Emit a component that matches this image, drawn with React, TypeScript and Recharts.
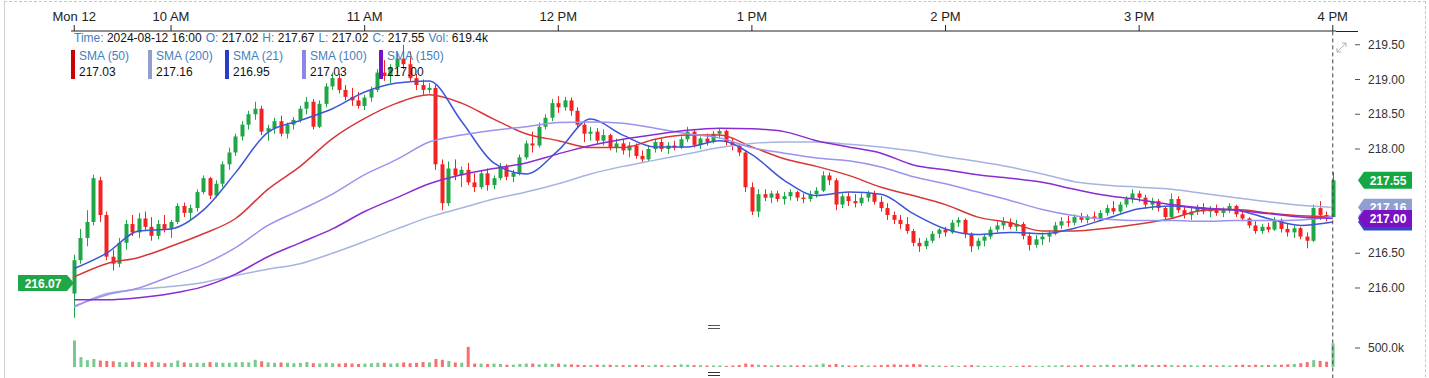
import React from 'react';
import { ComposedChart, Bar, Line, XAxis, YAxis, ReferenceLine, Cell } from 'recharts';

// 2-minute candles, 09:30 -> 16:00 (index 195 is the 16:00 candle)
const opens = [
  215.92, 216.40, 216.72, 216.95, 217.55, 217.05, 216.45, 216.35, 216.65, 216.92,
  216.80, 217.00, 216.88, 216.75, 216.92, 216.85, 216.95, 217.18, 217.08, 217.15,
  217.38, 217.58, 217.33, 217.50, 217.78, 217.95, 218.18, 218.35, 218.50, 218.58,
  218.25, 218.30, 218.40, 218.22, 218.35, 218.42, 218.58, 218.68, 218.32, 218.65,
  218.90, 219.02, 218.85, 218.75, 218.70, 218.62, 218.74, 218.85, 219.10, 219.05,
  219.18, 219.30, 219.22, 219.02, 218.92, 218.85, 218.88, 217.78, 217.22, 217.72,
  217.62, 217.70, 217.52, 217.45, 217.65, 217.48, 217.58, 217.75, 217.60, 217.66,
  217.88, 218.08, 218.05, 218.32, 218.45, 218.66, 218.60, 218.70, 218.55, 218.35,
  218.22, 218.25, 218.12, 218.20, 218.02, 218.08, 217.98, 218.05, 217.90, 217.85,
  218.00, 218.10, 218.00, 218.05, 218.02, 218.14, 218.25, 218.06, 218.15, 218.10,
  218.22, 218.26, 218.10, 218.05, 217.95, 217.45, 217.10, 217.35, 217.30, 217.36,
  217.28, 217.32, 217.38, 217.30, 217.28, 217.35, 217.40, 217.62, 217.55, 217.20,
  217.32, 217.25, 217.22, 217.30, 217.36, 217.24, 217.15, 217.05, 216.98, 216.92,
  216.82, 216.65, 216.60, 216.68, 216.78, 216.84, 216.80, 216.94, 216.98, 216.78,
  216.60, 216.68, 216.74, 216.84, 216.90, 216.95, 216.88, 216.92, 216.75, 216.62,
  216.70, 216.74, 216.78, 216.90, 216.96, 216.94, 217.02, 216.98, 217.03, 217.00,
  217.08, 217.15, 217.10, 217.20, 217.28, 217.36, 217.30, 217.20, 217.25, 217.15,
  217.02, 217.28, 217.12, 217.05, 217.10, 217.16, 217.10, 217.14, 217.08, 217.12,
  217.18, 217.06, 217.00, 216.90, 216.82, 216.88, 216.84, 216.98, 216.85, 216.80,
  216.86, 216.74, 216.68, 217.15, 217.05, 217.02,
];
const highs = [
  216.48, 216.85, 217.12, 217.63, 217.60, 217.10, 216.55, 216.72, 216.98, 217.05,
  217.08, 217.10, 217.02, 216.98, 217.05, 216.98, 217.22, 217.23, 217.20, 217.42,
  217.62, 217.60, 217.55, 217.82, 218.02, 218.22, 218.40, 218.55, 218.68, 218.62,
  218.35, 218.45, 218.48, 218.38, 218.46, 218.62, 218.75, 218.72, 218.70, 218.95,
  219.10, 219.08, 218.92, 218.88, 218.82, 218.78, 218.90, 219.15, 219.28, 219.22,
  219.38, 219.50, 219.40, 219.08, 219.00, 218.95, 218.92, 217.85, 217.82, 217.85,
  217.75, 217.80, 217.65, 217.70, 217.72, 217.62, 217.80, 217.78, 217.70, 217.92,
  218.12, 218.25, 218.38, 218.50, 218.72, 218.76, 218.75, 218.74, 218.60, 218.40,
  218.32, 218.30, 218.28, 218.22, 218.15, 218.14, 218.10, 218.08, 217.98, 218.05,
  218.14, 218.15, 218.10, 218.12, 218.18, 218.32, 218.28, 218.18, 218.22, 218.26,
  218.30, 218.28, 218.15, 218.08, 217.98, 217.52, 217.42, 217.42, 217.40, 217.40,
  217.38, 217.42, 217.40, 217.36, 217.40, 217.45, 217.68, 217.66, 217.58, 217.36,
  217.38, 217.35, 217.36, 217.40, 217.40, 217.32, 217.22, 217.10, 217.05, 217.02,
  216.85, 216.72, 216.72, 216.82, 216.86, 216.88, 216.98, 217.02, 217.00, 216.80,
  216.72, 216.78, 216.88, 216.96, 217.02, 217.00, 216.98, 216.95, 216.80, 216.76,
  216.80, 216.82, 216.95, 217.02, 217.04, 217.06, 217.08, 217.06, 217.10, 217.12,
  217.20, 217.25, 217.24, 217.32, 217.42, 217.40, 217.34, 217.30, 217.28, 217.18,
  217.36, 217.32, 217.18, 217.16, 217.20, 217.22, 217.18, 217.20, 217.16, 217.22,
  217.20, 217.12, 217.02, 216.96, 216.92, 216.94, 217.02, 217.00, 216.92, 216.90,
  216.88, 216.80, 217.20, 217.25, 217.10, 217.67,
];
const lows = [
  215.57, 216.35, 216.60, 216.90, 216.95, 216.40, 216.25, 216.30, 216.55, 216.75,
  216.72, 216.82, 216.68, 216.70, 216.80, 216.72, 216.92, 217.02, 216.98, 217.10,
  217.35, 217.28, 217.30, 217.45, 217.70, 217.90, 218.12, 218.28, 218.42, 218.20,
  218.12, 218.22, 218.18, 218.15, 218.28, 218.38, 218.50, 218.28, 218.30, 218.60,
  218.85, 218.80, 218.70, 218.62, 218.58, 218.56, 218.68, 218.82, 218.98, 218.95,
  219.10, 219.15, 218.98, 218.85, 218.78, 218.80, 217.70, 217.12, 217.18, 217.55,
  217.45, 217.48, 217.38, 217.42, 217.40, 217.42, 217.55, 217.55, 217.52, 217.62,
  217.85, 217.95, 218.02, 218.28, 218.40, 218.52, 218.55, 218.48, 218.30, 218.10,
  218.12, 218.08, 218.05, 217.98, 217.95, 217.92, 217.88, 217.86, 217.80, 217.82,
  217.95, 217.96, 217.93, 217.98, 218.00, 218.10, 218.02, 218.00, 218.05, 218.08,
  218.15, 218.05, 217.98, 217.90, 217.38, 217.05, 217.02, 217.25, 217.22, 217.24,
  217.20, 217.26, 217.25, 217.22, 217.24, 217.30, 217.38, 217.48, 217.12, 217.15,
  217.18, 217.16, 217.18, 217.24, 217.20, 217.10, 216.98, 216.92, 216.85, 216.78,
  216.60, 216.52, 216.56, 216.65, 216.72, 216.74, 216.78, 216.88, 216.72, 216.52,
  216.55, 216.60, 216.70, 216.80, 216.84, 216.85, 216.82, 216.70, 216.54, 216.58,
  216.62, 216.66, 216.76, 216.85, 216.88, 216.90, 216.94, 216.93, 216.96, 216.96,
  217.04, 217.06, 217.08, 217.16, 217.22, 217.24, 217.14, 217.12, 217.10, 216.96,
  217.00, 217.08, 217.00, 216.98, 217.05, 217.06, 217.02, 217.04, 217.02, 217.08,
  217.02, 216.96, 216.86, 216.78, 216.78, 216.80, 216.82, 216.80, 216.74, 216.72,
  216.70, 216.57, 216.66, 216.98, 216.96, 217.02,
];
const closes = [
  216.40, 216.72, 216.95, 217.58, 217.05, 216.45, 216.35, 216.65, 216.92, 216.80,
  217.00, 216.88, 216.75, 216.92, 216.85, 216.95, 217.18, 217.08, 217.15, 217.38,
  217.58, 217.33, 217.50, 217.78, 217.95, 218.18, 218.35, 218.50, 218.58, 218.25,
  218.30, 218.40, 218.22, 218.35, 218.42, 218.58, 218.68, 218.32, 218.65, 218.90,
  219.02, 218.85, 218.75, 218.70, 218.62, 218.74, 218.85, 219.10, 219.05, 219.18,
  219.30, 219.22, 219.02, 218.92, 218.85, 218.88, 217.78, 217.22, 217.72, 217.62,
  217.70, 217.52, 217.45, 217.65, 217.48, 217.58, 217.75, 217.60, 217.66, 217.88,
  218.08, 218.05, 218.32, 218.45, 218.66, 218.60, 218.70, 218.55, 218.35, 218.22,
  218.25, 218.12, 218.20, 218.02, 218.08, 217.98, 218.05, 217.90, 217.85, 218.00,
  218.10, 218.00, 218.05, 218.02, 218.14, 218.25, 218.06, 218.15, 218.10, 218.22,
  218.26, 218.10, 218.05, 217.95, 217.45, 217.10, 217.35, 217.30, 217.36, 217.28,
  217.32, 217.38, 217.30, 217.28, 217.35, 217.40, 217.62, 217.55, 217.20, 217.32,
  217.25, 217.22, 217.30, 217.36, 217.24, 217.15, 217.05, 216.98, 216.92, 216.82,
  216.65, 216.60, 216.68, 216.78, 216.84, 216.80, 216.94, 216.98, 216.78, 216.60,
  216.68, 216.74, 216.84, 216.90, 216.95, 216.88, 216.92, 216.75, 216.62, 216.70,
  216.74, 216.78, 216.90, 216.96, 216.94, 217.02, 216.98, 217.03, 217.00, 217.08,
  217.15, 217.10, 217.20, 217.28, 217.36, 217.30, 217.20, 217.25, 217.15, 217.02,
  217.28, 217.12, 217.05, 217.10, 217.16, 217.10, 217.14, 217.08, 217.12, 217.18,
  217.06, 217.00, 216.90, 216.82, 216.88, 216.84, 216.98, 216.85, 216.80, 216.86,
  216.74, 216.68, 217.15, 217.05, 217.02, 217.55,
];
// volume in thousands
const volumes = [
  700, 260, 180, 210, 170, 160, 150, 130, 120, 140, 130, 110, 140, 120, 100, 110, 170, 120, 100, 110,
  110, 130, 120, 110, 110, 120, 130, 120, 190, 150, 120, 110, 120, 110, 100, 110, 130, 100, 90, 110,
  100, 90, 100, 90, 80, 90, 100, 110, 110, 90, 100, 120, 100, 110, 130, 120, 210, 190, 160, 120,
  110, 530, 90, 90, 80, 90, 80, 60, 60, 80, 90, 90, 70, 90, 80, 90, 70, 70, 60, 50,
  50, 60, 60, 60, 50, 50, 50, 60, 50, 40, 60, 50, 40, 50, 70, 60, 50, 50, 40, 40,
  40, 30, 40, 50, 90, 70, 60, 50, 40, 50, 40, 50, 40, 50, 40, 60, 90, 60, 80, 50,
  40, 40, 50, 40, 40, 50, 60, 70, 60, 60, 80, 70, 50, 40, 40, 30, 40, 30, 40, 50,
  40, 30, 30, 30, 30, 20, 30, 40, 40, 30, 30, 40, 40, 50, 40, 40, 50, 50, 40, 50,
  60, 50, 50, 60, 70, 50, 60, 50, 50, 60, 50, 40, 50, 50, 40, 50, 50, 40, 50, 40,
  50, 60, 50, 60, 50, 50, 60, 60, 70, 80, 100, 130, 180, 160, 140, 619.4,
];

// moving averages, sampled every 5th candle (idx 0, 5, 10 ... 195)
const sma21 = [
  216.28, 216.50, 216.82, 216.85, 217.12, 217.66, 218.24, 218.41, 218.58, 218.82,
  218.95, 218.98, 218.40, 217.80, 217.64, 217.98, 218.43, 218.20, 218.03, 218.03,
  218.12, 217.92, 217.55, 217.33, 217.38, 217.35, 217.07, 216.85, 216.77, 216.80,
  216.78, 216.86, 217.00, 217.14, 217.18, 217.14, 217.12, 217.00, 216.90, 216.95,
];
const sma50 = [
  216.16, 216.35, 216.44, 216.60, 216.78, 217.00, 217.42, 217.75, 218.15, 218.44,
  218.66, 218.78, 218.66, 218.43, 218.22, 218.12, 218.02, 218.02, 218.14, 218.20,
  218.20, 218.03, 217.86, 217.75, 217.62, 217.45, 217.33, 217.20, 217.02, 216.94,
  216.82, 216.82, 216.86, 216.92, 217.00, 217.12, 217.13, 217.08, 217.04, 217.03,
];
const sma100 = [
  215.74, 215.90, 216.00, 216.17, 216.34, 216.58, 216.90, 217.12, 217.35, 217.63,
  217.85, 218.10, 218.20, 218.27, 218.32, 218.38, 218.39, 218.37, 218.30, 218.22,
  218.16, 218.02, 217.94, 217.87, 217.83, 217.74, 217.60, 217.50, 217.38, 217.26,
  217.13, 217.04, 216.99, 216.97, 216.97, 216.96, 216.97, 216.97, 216.98, 217.03,
];
const sma150 = [
  215.83, 215.83, 215.86, 215.92, 216.02, 216.20, 216.45, 216.65, 216.85, 217.10,
  217.30, 217.50, 217.63, 217.72, 217.80, 217.93, 218.05, 218.14, 218.21, 218.27,
  218.30, 218.29, 218.25, 218.12, 218.03, 217.94, 217.77, 217.70, 217.63, 217.58,
  217.52, 217.42, 217.33, 217.27, 217.20, 217.15, 217.12, 217.07, 217.02, 217.00,
];
const sma200 = [
  215.72, 215.92, 215.98, 216.02, 216.08, 216.18, 216.27, 216.35, 216.50, 216.67,
  216.85, 217.02, 217.15, 217.28, 217.38, 217.50, 217.64, 217.75, 217.84, 217.93,
  218.02, 218.08, 218.10, 218.10, 218.07, 218.03, 217.97, 217.89, 217.82, 217.74,
  217.64, 217.53, 217.48, 217.45, 217.42, 217.36, 217.30, 217.24, 217.19, 217.16,
];

const timeTicks = [0, 15, 45, 75, 105, 135, 165, 195];
const timeLabels = ['Mon 12', '10 AM', '11 AM', '12 PM', '1 PM', '2 PM', '3 PM', '4 PM'];
const priceTicks = [216, 216.5, 218, 218.5, 219, 219.5];
const openPrice = 216.07;

const GREEN = '#1fa646';
const RED = '#f52222';
const LABEL_BLUE = '#3f7fbf';

const smaDefs = [
  { key: 'sma50', name: 'SMA (50)', values: sma50, legend: '#cc0000', stroke: '#d93636' },
  { key: 'sma200', name: 'SMA (200)', values: sma200, legend: '#8e9fd0', stroke: '#a6b4df' },
  { key: 'sma21', name: 'SMA (21)', values: sma21, legend: '#2a3ccc', stroke: '#3d55d8' },
  { key: 'sma100', name: 'SMA (100)', values: sma100, legend: '#8c86e8', stroke: '#9b93ee' },
  { key: 'sma150', name: 'SMA (150)', values: sma150, legend: '#7a12c4', stroke: '#8b2bd2' },
];

const data = closes.map((c, i) => {
  const row: any = {
    idx: i,
    open: opens[i],
    high: highs[i],
    low: lows[i],
    close: c,
    range: [lows[i], highs[i]],
    vol: volumes[i],
  };
  smaDefs.forEach((s) => {
    row[s.key] = i % 5 === 0 ? s.values[i / 5] : null;
  });
  return row;
});

const last = data[data.length - 1];

const Candle = (props: any) => {
  const { x, y, width, height, payload } = props;
  if (!payload || y == null) return null;
  const { open, close, high, low } = payload;
  const color = close >= open ? GREEN : RED;
  const top = Math.min(y, y + height);
  const h = Math.abs(height);
  const ratio = h / (high - low || 1);
  const bodyTop = top + (high - Math.max(open, close)) * ratio;
  const bodyH = Math.max(1, Math.abs(open - close) * ratio);
  const cx = Math.round(x + width / 2) + 0.5;
  return (
    <g>
      <line x1={cx} x2={cx} y1={top} y2={top + h} stroke={color} strokeWidth={1} />
      <rect x={cx - width / 2} y={bodyTop} width={width} height={bodyH} fill={color} />
    </g>
  );
};

const PriceTick = (props: any) => {
  const { x, y, payload } = props;
  return (
    <g>
      <line x1={x + 19} x2={x + 24} y1={y} y2={y} stroke="#555" />
      <text x={x + 32} y={y + 4} fontSize={12} fill="#333">
        {Number(payload.value).toFixed(2)}
      </text>
    </g>
  );
};

// price tag on the right; text is left out for tags that sit fully under another one
const rightBadge = (text: string | null, fill: string) => (props: any) => {
  const vb = props.viewBox || {};
  const x0 = vb.x + vb.width + 22;
  const y = vb.y;
  return (
    <g>
      <polygon
        points={`${x0},${y} ${x0 + 6},${y - 8.5} ${x0 + 54},${y - 8.5} ${x0 + 54},${y + 8.5} ${x0 + 6},${y + 8.5}`}
        fill={fill}
      />
      {text && (
        <text x={x0 + 30} y={y + 4.5} fontSize={12} fontWeight="bold" fill="#fff" textAnchor="middle">
          {text}
        </text>
      )}
    </g>
  );
};

const leftBadge = (props: any) => {
  const vb = props.viewBox || {};
  const tip = vb.x + 3;
  const y = vb.y;
  return (
    <g>
      <polygon
        points={`${tip - 56},${y - 8} ${tip - 7},${y - 8} ${tip},${y} ${tip - 7},${y + 8} ${tip - 56},${y + 8}`}
        fill={GREEN}
      />
      <text x={tip - 31} y={y + 4.5} fontSize={12} fontWeight="bold" fill="#fff" textAnchor="middle">
        {openPrice.toFixed(2)}
      </text>
    </g>
  );
};

const volTickLabel = (props: any) => {
  const vb = props.viewBox || {};
  const x = vb.x + vb.width;
  const y = vb.y;
  return (
    <g>
      <line x1={x + 19} x2={x + 24} y1={y} y2={y} stroke="#555" />
      <text x={x + 32} y={y + 4} fontSize={12} fill="#333">500.0k</text>
    </g>
  );
};

const App: React.FC = () => {
  const lab = { color: LABEL_BLUE };
  const val = { color: '#111', marginRight: 4 };
  return (
    <div
      style={{
        position: 'absolute',
        left: 0,
        top: 0,
        width: 1429,
        height: 378,
        overflow: 'hidden',
        background: '#fff',
        fontFamily: "'Liberation Sans', Arial, sans-serif",
      }}
    >
      <ComposedChart width={1429} height={378} data={data} margin={{ top: 6, right: 13, left: 71, bottom: 11 }}>
        <XAxis
          xAxisId="top"
          dataKey="idx"
          orientation="top"
          height={25}
          ticks={timeTicks}
          interval={0}
          tickMargin={4}
          tickFormatter={(v: number) => timeLabels[timeTicks.indexOf(v)] || ''}
          tick={{ fontSize: 13, fill: '#222' }}
          axisLine={{ stroke: '#222' }}
          tickLine={{ stroke: '#222' }}
        />
        <XAxis xAxisId="volx" dataKey="idx" hide />
        <YAxis
          yAxisId="price"
          orientation="right"
          domain={[214.863, 219.698]}
          allowDataOverflow
          ticks={priceTicks}
          width={80}
          axisLine={false}
          tickLine={false}
          tickSize={0}
          tickMargin={0}
          tick={<PriceTick />}
        />
        <YAxis yAxisId="vol" domain={[0, 8842]} allowDataOverflow hide />

        <Bar xAxisId="volx" yAxisId="vol" dataKey="vol" barSize={3} isAnimationActive={false}>
          {data.map((d, i) => (
            <Cell key={i} fill={d.close >= d.open ? 'rgba(31,166,70,0.6)' : 'rgba(245,34,34,0.65)'} />
          ))}
        </Bar>
        <Bar
          xAxisId="top"
          yAxisId="price"
          dataKey="range"
          barSize={4}
          shape={<Candle />}
          isAnimationActive={false}
        />

        {smaDefs.map((s) => (
          <Line
            key={s.key}
            xAxisId="top"
            yAxisId="price"
            dataKey={s.key}
            type="monotone"
            stroke={s.stroke}
            strokeWidth={1.5}
            dot={false}
            activeDot={false}
            connectNulls
            isAnimationActive={false}
          />
        ))}

        <ReferenceLine
          xAxisId="top"
          yAxisId="vol"
          segment={[{ x: 195, y: -300 }, { x: 195, y: 8842 }]}
          ifOverflow="visible"
          stroke="#444"
          strokeDasharray="4 3"
        />
        <ReferenceLine xAxisId="volx" yAxisId="vol" y={500} stroke="none" label={volTickLabel} />
        <ReferenceLine xAxisId="top" yAxisId="price" y={openPrice} stroke="none" label={leftBadge} />
        <ReferenceLine xAxisId="top" yAxisId="price" y={last.close} stroke="none" label={rightBadge(last.close.toFixed(2), '#14a743')} />
        <ReferenceLine xAxisId="top" yAxisId="price" y={sma100[39]} stroke="none" label={rightBadge(null, '#8c86e8')} />
        <ReferenceLine xAxisId="top" yAxisId="price" y={sma21[39]} stroke="none" label={rightBadge(null, '#3346cc')} />
        <ReferenceLine xAxisId="top" yAxisId="price" y={sma200[39]} stroke="none" label={rightBadge(sma200[39].toFixed(2), '#8e9fd0')} />
        <ReferenceLine xAxisId="top" yAxisId="price" y={sma150[39]} stroke="none" label={rightBadge(sma150[39].toFixed(2), '#7a12c4')} />
      </ComposedChart>

      {/* header */}
      <div style={{ position: 'absolute', left: 74, top: 31, fontSize: 12, lineHeight: '14px', whiteSpace: 'nowrap' }}>
        <span style={lab}>Time: </span><span style={val}>2024-08-12 16:00</span>
        <span style={lab}>O: </span><span style={val}>{last.open.toFixed(2)}</span>
        <span style={lab}>H: </span><span style={val}>{last.high.toFixed(2)}</span>
        <span style={lab}>L: </span><span style={val}>{last.low.toFixed(2)}</span>
        <span style={lab}>C: </span><span style={val}>{last.close.toFixed(2)}</span>
        <span style={lab}>Vol: </span><span style={val}>{last.vol.toFixed(1)}k</span>
      </div>

      {/* SMA legend */}
      {smaDefs.map((s, k) => (
        <div key={s.key} style={{ position: 'absolute', left: 71 + k * 77, top: 50, height: 29 }}>
          <div style={{ position: 'absolute', left: 0, top: 0, width: 4, height: 29, background: s.legend }} />
          <div style={{ position: 'absolute', left: 8, top: -2, fontSize: 12, lineHeight: '16px', color: LABEL_BLUE, whiteSpace: 'nowrap' }}>
            {s.name}
          </div>
          <div style={{ position: 'absolute', left: 8, top: 14, fontSize: 12, lineHeight: '16px', color: '#111' }}>
            {s.values[s.values.length - 1].toFixed(2)}
          </div>
        </div>
      ))}

      {/* frame and pane decorations */}
      <div
        style={{
          position: 'absolute',
          left: 4,
          top: 1,
          width: 1420,
          height: 400,
          borderTop: '1px dashed #c8c8c8',
          borderRight: '1px dashed #c8c8c8',
          borderLeft: '1px solid #d0d0d0',
          pointerEvents: 'none',
        }}
      />
      <svg width={1429} height={378} style={{ position: 'absolute', left: 0, top: 0, pointerEvents: 'none' }}>
        <line x1={1336} x2={1358} y1={31.5} y2={31.5} stroke="#222" />
        <line x1={708} x2={720} y1={325.5} y2={325.5} stroke="#555" />
        <line x1={708} x2={720} y1={328.5} y2={328.5} stroke="#555" />
        <line x1={708} x2={720} y1={372.5} y2={372.5} stroke="#333" />
        <line x1={708} x2={720} y1={375.5} y2={375.5} stroke="#333" />
        <g stroke="#b0b0b0" strokeWidth={1} fill="none">
          <line x1={1337} y1={52} x2={1346} y2={43} />
          <polyline points="1337,48 1337,52 1341,52" />
          <polyline points="1342,43 1346,43 1346,47" />
        </g>
      </svg>
    </div>
  );
};

export default App;
